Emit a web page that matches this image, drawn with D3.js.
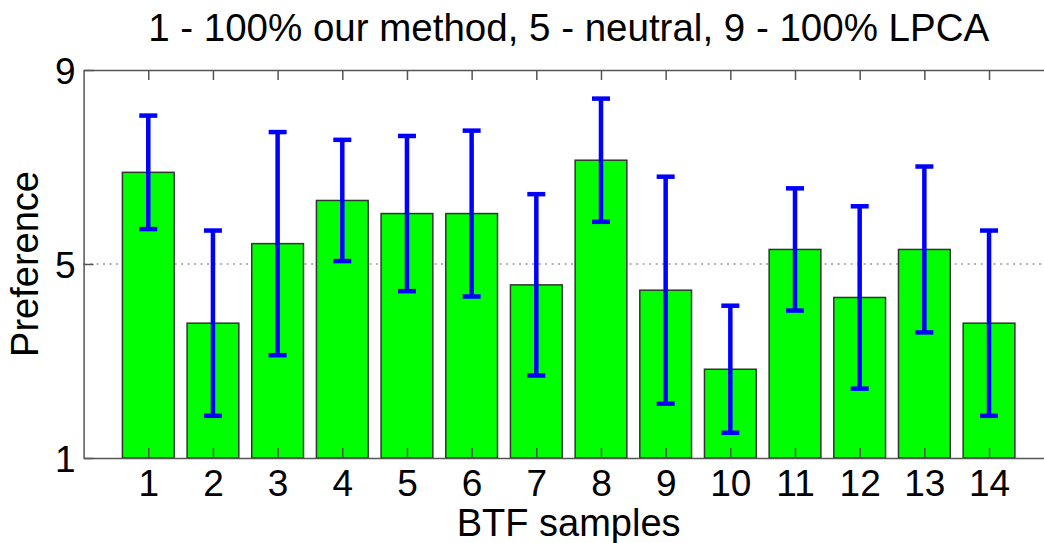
<!DOCTYPE html>
<html>
<head>
<meta charset="utf-8">
<script src="https://cdn.jsdelivr.net/npm/d3@7"></script>
<style>
  body { margin: 0; background: #fff; }
  svg { display: block; font-family: "Liberation Sans", Arial, sans-serif; }
</style>
</head>
<body>
<svg id="chart" width="1044" height="543"></svg>
<script>
// values
const samples = [1, 2, 3, 4, 5, 6, 7, 8, 9, 10, 11, 12, 13, 14];
const means = [6.89, 3.78, 5.42, 6.31, 6.04, 6.04, 4.57, 7.14, 4.46, 2.83, 5.30, 4.31, 5.30, 3.78];
const errs = [1.17, 1.91, 2.30, 1.25, 1.60, 1.71, 1.87, 1.27, 2.34, 1.31, 1.26, 1.88, 1.71, 1.91];
const yTicks = [1, 5, 9];
const title = "1 - 100% our method, 5 - neutral, 9 - 100% LPCA";

const svg = d3.select("#chart");
const pl = 83.6, pr = 1053.7, pt = 70, pb = 458;
const axisCol = "#555";

// x runs 0..15 like matlab's bar(), the right edge falls outside the picture
const x = d3.scaleLinear().domain([0, 15]).range([pl, pr]);
const y = d3.scaleLinear().domain([1, 9]).range([pb, pt]);
const bw = x(0.8) - x(0);

// dotted neutral line, drawn under the bars
svg.append("line")
    .attr("x1", pl).attr("x2", pr)
    .attr("y1", y(5)).attr("y2", y(5))
    .attr("stroke", "#999")
    .attr("stroke-width", 1.5)
    .attr("stroke-dasharray", "2,4.5");

svg.selectAll("rect.bar")
    .data(samples)
    .enter()
    .append("rect")
    .attr("class", "bar")
    .attr("x", (d, i) => x(d) - bw / 2)
    .attr("y", (d, i) => y(means[i]))
    .attr("width", bw)
    .attr("height", (d, i) => y(1) - y(means[i]))
    .attr("fill", "#00ff00")
    .attr("stroke", "#333")
    .attr("stroke-width", 1.5);

// error bars
const eb = svg.append("g").attr("stroke", "#0000ff").attr("stroke-width", 4.5);
samples.forEach((d, i) => {
    const cx = x(d), hi = y(means[i] + errs[i]), lo = y(means[i] - errs[i]);
    eb.append("line").attr("x1", cx).attr("x2", cx).attr("y1", hi).attr("y2", lo);
    eb.append("line").attr("x1", cx - 9).attr("x2", cx + 9).attr("y1", hi).attr("y2", hi);
    eb.append("line").attr("x1", cx - 9).attr("x2", cx + 9).attr("y1", lo).attr("y2", lo);
});

// box: bottom axis with labels, top axis with ticks only, left axis
const xb = svg.append("g")
    .attr("transform", `translate(0,${pb})`)
    .call(d3.axisBottom(x).tickValues(samples).tickSizeInner(-10).tickSizeOuter(0).tickPadding(12));
const xt = svg.append("g")
    .attr("transform", `translate(0,${pt})`)
    .call(d3.axisTop(x).tickValues(samples).tickSizeInner(-10).tickSizeOuter(0).tickFormat(""));
const yl = svg.append("g")
    .attr("transform", `translate(${pl},0)`)
    .call(d3.axisLeft(y).tickValues(yTicks).tickSizeInner(-10).tickSizeOuter(0).tickPadding(8));

[xb, xt, yl].forEach(g => {
    g.select(".domain").attr("stroke", axisCol).attr("stroke-width", 1.5);
    g.selectAll(".tick line").attr("stroke", axisCol).attr("stroke-width", 1.5);
    g.selectAll(".tick text").attr("fill", "#000").style("font-size", "37px")
        .style("font-family", "'Liberation Sans', Arial, sans-serif");
});
yl.selectAll(".tick text").attr("dy", "0.36em");
xb.selectAll(".tick text").attr("dy", "0.71em");

svg.append("text")
    .attr("x", (pl + pr) / 2)
    .attr("y", 41)
    .attr("text-anchor", "middle")
    .style("font-size", "38.5px")
    .text(title);

svg.append("text")
    .attr("x", (x(0) + x(15)) / 2)
    .attr("y", 536)
    .attr("text-anchor", "middle")
    .style("font-size", "38px")
    .text("BTF samples");

svg.append("text")
    .attr("transform", `translate(38,${y(5)}) rotate(-90)`)
    .attr("text-anchor", "middle")
    .style("font-size", "38px")
    .text("Preference");
</script>
</body>
</html>
